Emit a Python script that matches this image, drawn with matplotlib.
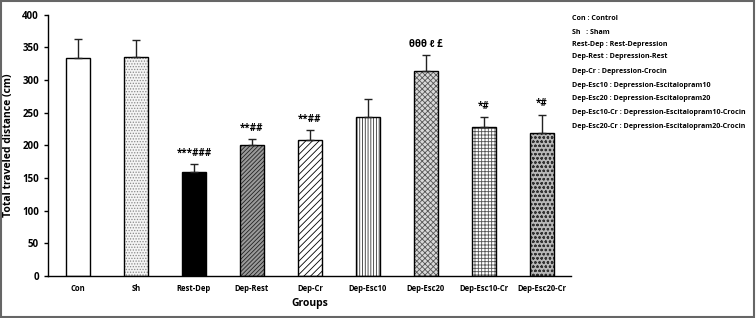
import matplotlib
matplotlib.use("Agg")
import matplotlib.pyplot as plt
from matplotlib.patches import Rectangle

plt.rcParams['font.family'] = ['Open Sans', 'DejaVu Sans']
plt.rcParams['hatch.linewidth'] = 0.6

groups = ["Con", "Sh", "Rest-Dep", "Dep-Rest", "Dep-Cr", "Dep-Esc10", "Dep-Esc20", "Dep-Esc10-Cr", "Dep-Esc20-Cr"]
means = [333, 335, 159, 200, 208, 244, 313, 228, 219]
errors = [29, 26, 12, 10, 15, 27, 25, 15, 28]
annotations = ["", "", "***###", "**##", "**##", "", "θθθ ℓ £", "*#", "*#"]
legend_lines = [
    "Con : Control",
    "Sh   : Sham",
    "Rest-Dep : Rest-Depression",
    "Dep-Rest : Depression-Rest",
    "Dep-Cr : Depression-Crocin",
    "Dep-Esc10 : Depression-Escitalopram10",
    "Dep-Esc20 : Depression-Escitalopram20",
    "Dep-Esc10-Cr : Depression-Escitalopram10-Crocin",
    "Dep-Esc20-Cr : Depression-Escitalopram20-Crocin",
]

faces = ["white", "#f4f4f4", "black", "#9a9a9a", "white", "white", "#d8d8d8", "white", "#b8b8b8"]
hatches = [None, "......", None, "////////", "/////", "||||||", "xxxxxx", "+++++", "oooo"]
hcolors = ["black", "#888888", "black", "#222222", "black", "#333333", "#555555", "#555555", "#333333"]

fig = plt.figure(figsize=(7.56, 3.18), dpi=100)
fig.patch.set_facecolor("white")
ax = fig.add_axes([0.0635, 0.132, 0.6915, 0.822])

x = list(range(len(groups)))
bars = ax.bar(x, means, width=0.42, color=faces, edgecolor="black", linewidth=1.0, zorder=2)
for b, h, hc in zip(bars, hatches, hcolors):
    if h:
        b.set_hatch(h)
        b._hatch_color = matplotlib.colors.to_rgba(hc)
ax.errorbar(x, means, yerr=[[0]*len(means), errors], fmt="none", ecolor="#222222",
            elinewidth=1.0, capsize=3, capthick=1.0, zorder=3)

for xi, m, e, a in zip(x, means, errors, annotations):
    if a:
        ax.text(xi, m + e + 8, a, ha="center", va="bottom", fontsize=7, fontweight="bold")

ax.set_xlim(-0.517, 8.5)
ax.set_ylim(0, 400)
ax.set_yticks(range(0, 401, 50))
ax.set_xticks(x)
ax.set_xticklabels(groups, fontsize=5.5, fontweight="bold")
ax.tick_params(axis="x", length=0, pad=6)
ax.tick_params(axis="y", labelsize=7, length=3, width=1, direction="out")
for lab in ax.get_yticklabels():
    lab.set_fontweight("bold")
ax.spines["top"].set_visible(False)
ax.spines["right"].set_visible(False)
ax.spines["left"].set_linewidth(1.0)
ax.spines["bottom"].set_linewidth(1.0)
ax.set_ylabel("Total traveled distance (cm)", fontsize=7.5, fontweight="bold", labelpad=6)
ax.set_xlabel("Groups", fontsize=7.5, fontweight="bold", labelpad=3)

ys = [19, 32, 44, 57, 71, 86, 99, 113, 127]
for yy, t in zip(ys, legend_lines):
    fig.text(572 / 756, 1 - yy / 318, t, fontsize=5.1, fontweight="bold", va="center", ha="left")

# figure frame
fig.patches.append(Rectangle((0.001, 0.003), 0.997, 0.994, transform=fig.transFigure,
                             fill=False, edgecolor="#666666", linewidth=1.5))

fig.savefig("out.png", dpi=100)
